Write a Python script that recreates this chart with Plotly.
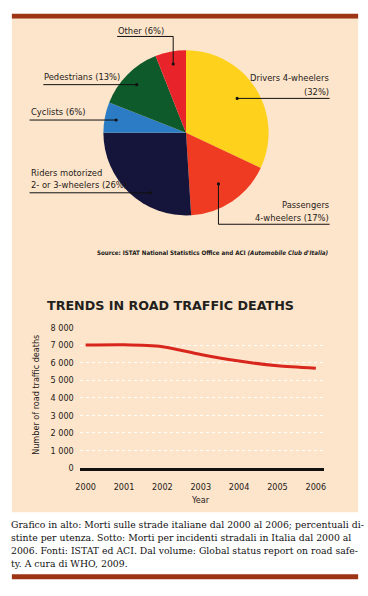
import plotly.graph_objects as go

# ---------------- data ----------------
pie_labels = ["Drivers 4-wheelers", "Passengers 4-wheelers",
              "Riders motorized 2- or 3-wheelers", "Cyclists",
              "Pedestrians", "Other"]
pie_values = [32, 17, 26, 6, 13, 6]
pie_colors = ["#fdd11c", "#ee3b22", "#15143a", "#2b7cc4", "#0f5a2b", "#e8232a"]

years = [2000, 2001, 2002, 2003, 2004, 2005, 2006]
deaths = [7000, 7020, 6910, 6460, 6090, 5820, 5680]

ytick_vals = [0, 1000, 2000, 3000, 4000, 5000, 6000, 7000, 8000]
ytick_text = ["0", "1 000", "2 000", "3 000", "4 000", "5 000", "6 000", "7 000", "8 000"]
xtick_text = [str(y) for y in years]

caption_lines = [
    "Grafico in alto: Morti sulle strade italiane dal 2000 al 2006; percentuali di-",
    "stinte per utenza. Sotto: Morti per incidenti stradali in Italia dal 2000 al",
    "2006. Fonti: ISTAT ed ACI. Dal volume: Global status report on road safe-",
    "ty. A cura di WHO, 2009.",
]

# ---------------- layout helpers ----------------
W, H = 368, 596


def px(x):
    return x / W


def py(y):
    return 1 - y / H


NARROW = "Liberation Sans Narrow, DejaVu Sans Condensed, Arial Narrow, sans-serif"
LABEL_COLOR = "#1e1a18"

fig = go.Figure()

# Pie
fig.add_trace(go.Pie(
    labels=pie_labels, values=pie_values, sort=False, direction="clockwise",
    rotation=0, marker=dict(colors=pie_colors, line=dict(width=0)),
    textinfo="none", hoverinfo="label+percent", showlegend=False,
    domain=dict(x=[px(101), px(269)], y=[py(214), py(46)]),
))

# Line chart
fig.add_trace(go.Scatter(
    x=years, y=deaths, mode="lines",
    line=dict(color="#d8261c", width=3, shape="spline", smoothing=0.7),
    showlegend=False, hoverinfo="x+y",
))

shapes = []
annotations = []

# Top/bottom rules and panel
shapes.append(dict(type="rect", xref="paper", yref="paper", x0=px(8), x1=px(360),
                   y0=py(14), y1=py(9), fillcolor="#9d3515", line=dict(width=0), layer="below"))
shapes.append(dict(type="rect", xref="paper", yref="paper", x0=px(8), x1=px(360),
                   y0=py(516), y1=py(14), fillcolor="#fde5cb", line=dict(width=0), layer="below"))
shapes.append(dict(type="rect", xref="paper", yref="paper", x0=px(8), x1=px(360),
                   y0=py(584), y1=py(579), fillcolor="#9d3515", line=dict(width=0), layer="below"))


def leader(points, dot):
    for (x0, y0), (x1, y1) in zip(points[:-1], points[1:]):
        shapes.append(dict(type="line", xref="paper", yref="paper",
                           x0=px(x0), y0=py(y0), x1=px(x1), y1=py(y1),
                           line=dict(color="#111111", width=1)))
    r = 1.6
    shapes.append(dict(type="circle", xref="paper", yref="paper",
                       x0=px(dot[0] - r), x1=px(dot[0] + r),
                       y0=py(dot[1] + r), y1=py(dot[1] - r),
                       fillcolor="#111111", line=dict(width=0)))


def label(text, x, y, anchor="left"):
    annotations.append(dict(text=text, xref="paper", yref="paper", x=px(x), y=py(y),
                            xanchor=anchor, yanchor="middle", showarrow=False,
                            align=anchor, borderpad=0,
                            font=dict(family=NARROW, size=9.3, color=LABEL_COLOR)))


pct = dict(zip(pie_labels, pie_values))

# Other
label(f"Other ({pct['Other']}%)", 115, 26)
leader([(115, 32), (172, 32), (172, 60)], (172, 60))
# Pedestrians
label(f"Pedestrians ({pct['Pedestrians']}%)", 40, 73)
leader([(40, 81), (135, 81)], (135, 81))
# Cyclists
label(f"Cyclists ({pct['Cyclists']}%)", 26, 108)
leader([(26, 117), (114, 117)], (114, 117))
# Drivers
label("Drivers 4-wheelers", 331, 74, "right")
label(f"({pct['Drivers 4-wheelers']}%)", 331, 88, "right")
leader([(331, 95), (237, 95)], (237, 95))
# Riders
label("Riders motorized", 26, 170)
label(f"2- or 3-wheelers ({pct['Riders motorized 2- or 3-wheelers']}%)", 26, 183)
leader([(26, 191), (149, 191)], (149, 191))
# Passengers
label("Passengers", 331, 203, "right")
label(f"4-wheelers ({pct['Passengers 4-wheelers']}%)", 331, 216, "right")
leader([(331, 223), (218, 223), (218, 182)], (218, 182))

# Source
annotations.append(dict(
    text="<b>Source: ISTAT National Statistics Office and ACI <i>(Automobile Club d'Italia)</i></b>",
    xref="paper", yref="paper", x=px(331), y=py(252), xanchor="right", yanchor="middle",
    showarrow=False, borderpad=0, font=dict(family=NARROW, size=6.2, color="#1a1a1a")))

# Line chart title
annotations.append(dict(
    text="<b>TRENDS IN ROAD TRAFFIC DEATHS</b>", xref="paper", yref="paper",
    x=px(43), y=py(306), xanchor="left", yanchor="middle", showarrow=False,
    borderpad=0, font=dict(family="DejaVu Sans, sans-serif", size=12.7, color="#231f1d")))

# Axis titles
annotations.append(dict(
    text="Number of road traffic deaths", xref="paper", yref="paper",
    x=px(33), y=py(396), xanchor="center", yanchor="middle", textangle=-90,
    showarrow=False, font=dict(family=NARROW, size=9, color=LABEL_COLOR)))
annotations.append(dict(
    text="Year", xref="paper", yref="paper", x=px(200), y=py(503),
    xanchor="center", yanchor="middle", showarrow=False,
    font=dict(family=NARROW, size=9, color=LABEL_COLOR)))

# Caption
for i, line in enumerate(caption_lines):
    annotations.append(dict(
        text=line, xref="paper", yref="paper", x=px(6), y=py(528 + 13.5 * i),
        xanchor="left", yanchor="middle", showarrow=False, borderpad=0,
        font=dict(family="DejaVu Serif, Liberation Serif, serif", size=9.3, color="#111111")))

x_left = 2000 - 6 / 39
x_right = 2006 + 8 / 39

fig.update_layout(
    width=W, height=H, margin=dict(l=0, r=0, t=0, b=0),
    paper_bgcolor="white", plot_bgcolor="#c3e4f5",
    shapes=shapes, annotations=annotations,
    xaxis=dict(domain=[px(77), px(325)], range=[x_left, x_right],
               tickvals=years, ticktext=xtick_text, showgrid=False, zeroline=False,
               showline=True, linecolor="#111111", linewidth=3, ticks="",
               ticklabelstandoff=8,
               tickfont=dict(family=NARROW, size=9, color=LABEL_COLOR), fixedrange=True),
    yaxis=dict(domain=[py(471), py(328)], range=[0, 8000],
               tickvals=ytick_vals, ticktext=ytick_text,
               showgrid=True, gridcolor="rgba(255,255,255,0.95)", griddash="dot", gridwidth=1,
               zeroline=False, showline=False, ticks="", ticklabelstandoff=5,
               tickfont=dict(family=NARROW, size=9, color=LABEL_COLOR), fixedrange=True),
)

fig.write_html("out.html", config={"displayModeBar": False},
               post_script="document.body.style.margin='0px';document.body.style.padding='0px';")
